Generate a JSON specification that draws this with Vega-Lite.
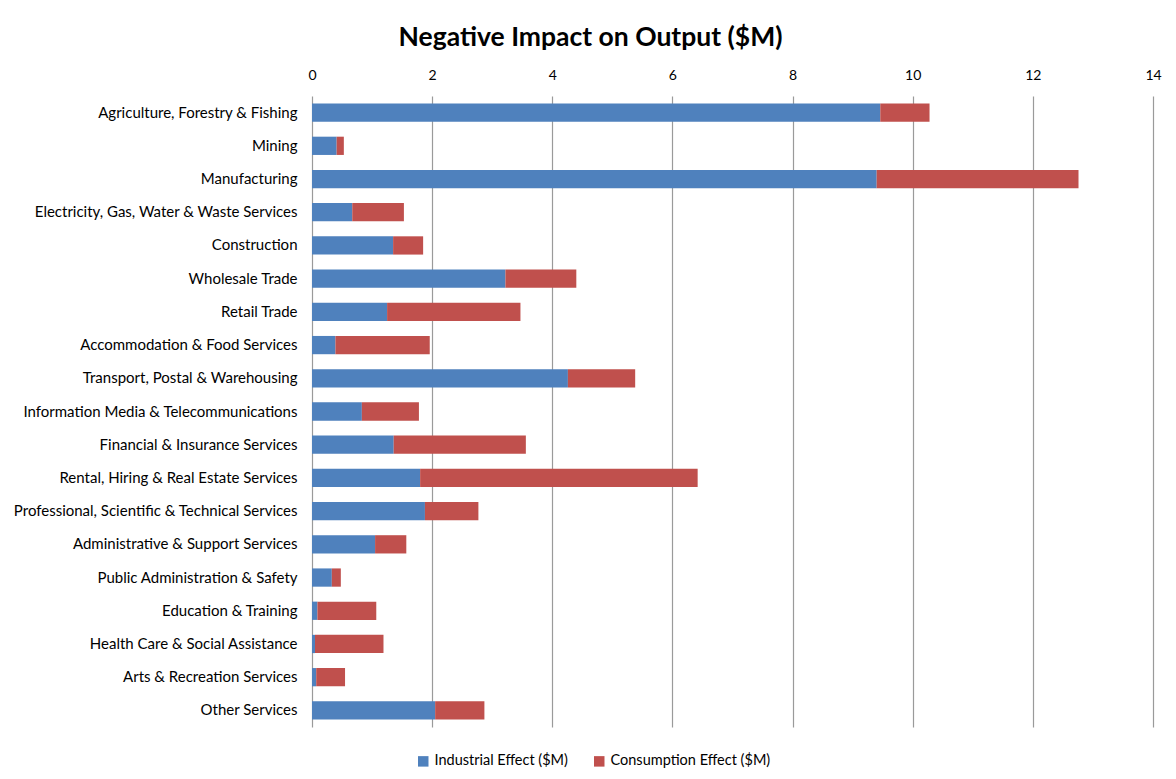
{
  "$schema": "https://vega.github.io/schema/vega-lite/v6.json",
  "autosize": "none",
  "width": 841,
  "height": 631,
  "padding": {"left": 312, "top": 96, "right": 23, "bottom": 52},
  "background": "white",
  "title": {
    "text": "Negative Impact on Output ($M)",
    "font": "Lato",
    "fontSize": 26.5,
    "fontWeight": "bold",
    "color": "#000000",
    "anchor": "middle",
    "dx": -142,
    "offset": 17
  },
  "data": {
    "values": [
      {"sector": "Agriculture, Forestry & Fishing", "effect": "Industrial Effect ($M)", "value": 9.46},
      {"sector": "Agriculture, Forestry & Fishing", "effect": "Consumption Effect ($M)", "value": 0.82},
      {"sector": "Mining", "effect": "Industrial Effect ($M)", "value": 0.41},
      {"sector": "Mining", "effect": "Consumption Effect ($M)", "value": 0.12},
      {"sector": "Manufacturing", "effect": "Industrial Effect ($M)", "value": 9.40},
      {"sector": "Manufacturing", "effect": "Consumption Effect ($M)", "value": 3.36},
      {"sector": "Electricity, Gas, Water & Waste Services", "effect": "Industrial Effect ($M)", "value": 0.67},
      {"sector": "Electricity, Gas, Water & Waste Services", "effect": "Consumption Effect ($M)", "value": 0.86},
      {"sector": "Construction", "effect": "Industrial Effect ($M)", "value": 1.35},
      {"sector": "Construction", "effect": "Consumption Effect ($M)", "value": 0.50},
      {"sector": "Wholesale Trade", "effect": "Industrial Effect ($M)", "value": 3.22},
      {"sector": "Wholesale Trade", "effect": "Consumption Effect ($M)", "value": 1.18},
      {"sector": "Retail Trade", "effect": "Industrial Effect ($M)", "value": 1.25},
      {"sector": "Retail Trade", "effect": "Consumption Effect ($M)", "value": 2.22},
      {"sector": "Accommodation & Food Services", "effect": "Industrial Effect ($M)", "value": 0.39},
      {"sector": "Accommodation & Food Services", "effect": "Consumption Effect ($M)", "value": 1.57},
      {"sector": "Transport, Postal & Warehousing", "effect": "Industrial Effect ($M)", "value": 4.26},
      {"sector": "Transport, Postal & Warehousing", "effect": "Consumption Effect ($M)", "value": 1.12},
      {"sector": "Information Media & Telecommunications", "effect": "Industrial Effect ($M)", "value": 0.83},
      {"sector": "Information Media & Telecommunications", "effect": "Consumption Effect ($M)", "value": 0.95},
      {"sector": "Financial & Insurance Services", "effect": "Industrial Effect ($M)", "value": 1.36},
      {"sector": "Financial & Insurance Services", "effect": "Consumption Effect ($M)", "value": 2.20},
      {"sector": "Rental, Hiring & Real Estate Services", "effect": "Industrial Effect ($M)", "value": 1.80},
      {"sector": "Rental, Hiring & Real Estate Services", "effect": "Consumption Effect ($M)", "value": 4.62},
      {"sector": "Professional, Scientific & Technical Services", "effect": "Industrial Effect ($M)", "value": 1.88},
      {"sector": "Professional, Scientific & Technical Services", "effect": "Consumption Effect ($M)", "value": 0.89},
      {"sector": "Administrative & Support Services", "effect": "Industrial Effect ($M)", "value": 1.05},
      {"sector": "Administrative & Support Services", "effect": "Consumption Effect ($M)", "value": 0.52},
      {"sector": "Public Administration & Safety", "effect": "Industrial Effect ($M)", "value": 0.33},
      {"sector": "Public Administration & Safety", "effect": "Consumption Effect ($M)", "value": 0.15},
      {"sector": "Education & Training", "effect": "Industrial Effect ($M)", "value": 0.09},
      {"sector": "Education & Training", "effect": "Consumption Effect ($M)", "value": 0.98},
      {"sector": "Health Care & Social Assistance", "effect": "Industrial Effect ($M)", "value": 0.05},
      {"sector": "Health Care & Social Assistance", "effect": "Consumption Effect ($M)", "value": 1.14},
      {"sector": "Arts & Recreation Services", "effect": "Industrial Effect ($M)", "value": 0.07},
      {"sector": "Arts & Recreation Services", "effect": "Consumption Effect ($M)", "value": 0.48},
      {"sector": "Other Services", "effect": "Industrial Effect ($M)", "value": 2.05},
      {"sector": "Other Services", "effect": "Consumption Effect ($M)", "value": 0.82}
    ]
  },
  "mark": {"type": "bar"},
  "encoding": {
    "y": {
      "field": "sector",
      "type": "nominal",
      "sort": null,
      "scale": {"paddingInner": 0.45, "paddingOuter": 0.225},
      "axis": {
        "title": null,
        "ticks": false,
        "domain": false,
        "labelPadding": 15,
        "labelFont": "Lato",
        "labelFontSize": 15,
        "labelColor": "#000000",
        "labelLimit": 320
      }
    },
    "x": {
      "field": "value",
      "type": "quantitative",
      "stack": "zero",
      "scale": {"domain": [0, 14], "nice": false},
      "axis": {
        "orient": "top",
        "values": [0, 2, 4, 6, 8, 10, 12, 14],
        "title": null,
        "ticks": false,
        "domain": false,
        "grid": true,
        "gridColor": "#9a9a9a",
        "gridWidth": 1.2,
        "labelPadding": 14,
        "labelFont": "Lato",
        "labelFontSize": 14,
        "labelColor": "#000000",
        "labelFlush": false
      }
    },
    "color": {
      "field": "effect",
      "type": "nominal",
      "sort": ["Industrial Effect ($M)", "Consumption Effect ($M)"],
      "scale": {
        "domain": ["Industrial Effect ($M)", "Consumption Effect ($M)"],
        "range": ["#4F81BD", "#C0504D"]
      },
      "legend": {
        "title": null,
        "orient": "none",
        "direction": "horizontal",
        "legendX": 104,
        "legendY": 658,
        "symbolType": "square",
        "symbolSize": 110,
        "symbolStrokeWidth": 0,
        "symbolOpacity": 1,
        "labelFont": "Lato",
        "labelFontSize": 14.5,
        "labelColor": "#000000",
        "labelOffset": 4,
        "labelLimit": 300,
        "columnPadding": 24
      }
    },
    "order": {"field": "order_key", "type": "quantitative"}
  },
  "config": {
    "view": {"stroke": null}
  }
}
